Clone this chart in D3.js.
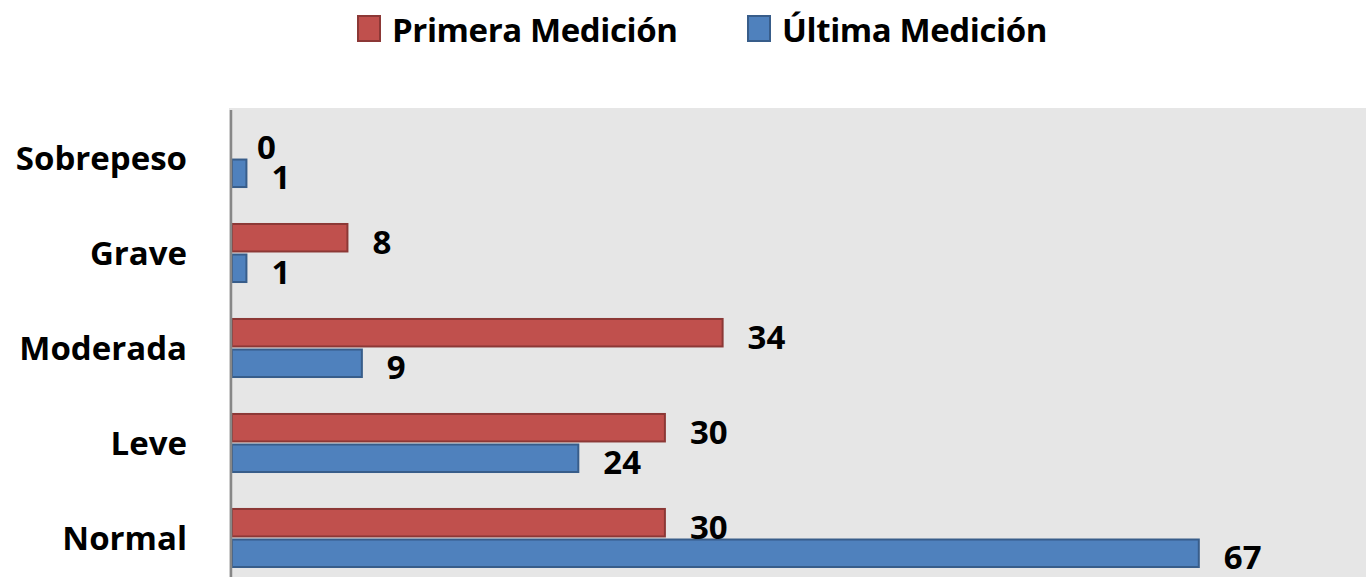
<!DOCTYPE html>
<html>
<head>
<meta charset="utf-8">
<script src="https://cdn.jsdelivr.net/npm/d3@7"></script>
<style>
  html, body { margin: 0; padding: 0; background: #ffffff; }
  svg { display: block; }
  text { font-family: "Open Sans", "DejaVu Sans", sans-serif; font-weight: 700; fill: #000; }
</style>
</head>
<body>
<svg id="chart" width="1366" height="577"></svg>
<script>
const categories = ["Sobrepeso", "Grave", "Moderada", "Leve", "Normal"];
const seriesNames = ["Primera Medición", "Última Medición"];
const primera = [0, 8, 34, 30, 30];
const ultima = [1, 1, 9, 24, 67];
const seriesColors = ["#c0504d", "#4f81bd"];
const seriesStrokes = ["#8c3836", "#385d8a"];

const W = 1366, H = 577;
const svg = d3.select("#chart");

const plotLeft = 231, plotTop = 108;

const x = d3.scaleLinear().domain([0, 80]).range([232, 232 + 80 * 14.43]);
const y = d3.scaleBand().domain(categories).range([plotTop, 588])
  .paddingInner(0.389).paddingOuter(0.221);
const ySub = d3.scaleBand().domain([0, 1]).range([0, y.bandwidth()]).paddingInner(0.1);

// plot background
svg.append("rect").attr("x", plotLeft - 2).attr("y", plotTop)
  .attr("width", W - plotLeft + 2).attr("height", H - plotTop)
  .attr("fill", "#e6e6e6");

const series = [primera, ultima];
const data = [];
categories.forEach((c, i) => {
  series.forEach((s, j) => data.push({cat: c, s: j, v: s[i]}));
});

const g = svg.append("g");
g.selectAll("rect.bar").data(data).join("rect")
  .attr("class", "bar")
  .attr("x", x(0))
  .attr("y", d => y(d.cat) + ySub(d.s))
  .attr("width", d => x(d.v) - x(0))
  .attr("height", ySub.bandwidth())
  .attr("fill", d => seriesColors[d.s])
  .attr("stroke", d => seriesStrokes[d.s])
  .attr("stroke-width", 2);

g.selectAll("text.val").data(data).join("text")
  .attr("class", "val")
  .attr("x", d => x(d.v) + 25)
  .attr("y", d => y(d.cat) + ySub(d.s) + ySub.bandwidth() / 2 + 16)
  .attr("font-size", 33)
  .text(d => d.v);

// y axis
const yAxis = d3.axisLeft(y).tickSize(0).tickPadding(44);
const ag = svg.append("g").attr("transform", `translate(${plotLeft},0)`).call(yAxis);
ag.select(".domain").attr("stroke", "#878787").attr("stroke-width", 2.5)
  .attr("d", `M0,${plotTop + 2}V${H}`);
ag.selectAll(".tick text")
  .attr("font-size", 33)
  .attr("font-family", "'Open Sans', sans-serif")
  .attr("font-weight", 700)
  .attr("fill", "#000")
  .attr("dy", null)
  .attr("y", 12);

// legend
const legendX = [357, 747];
const legend = svg.append("g");
seriesNames.forEach((n, j) => {
  legend.append("rect").attr("x", legendX[j] + 1).attr("y", 16)
    .attr("width", 22).attr("height", 25)
    .attr("fill", seriesColors[j]).attr("stroke", seriesStrokes[j]).attr("stroke-width", 2);
  legend.append("text").attr("x", legendX[j] + 35).attr("y", 42)
    .attr("font-size", 33).attr("letter-spacing", -0.4).text(n);
});
</script>
</body>
</html>
